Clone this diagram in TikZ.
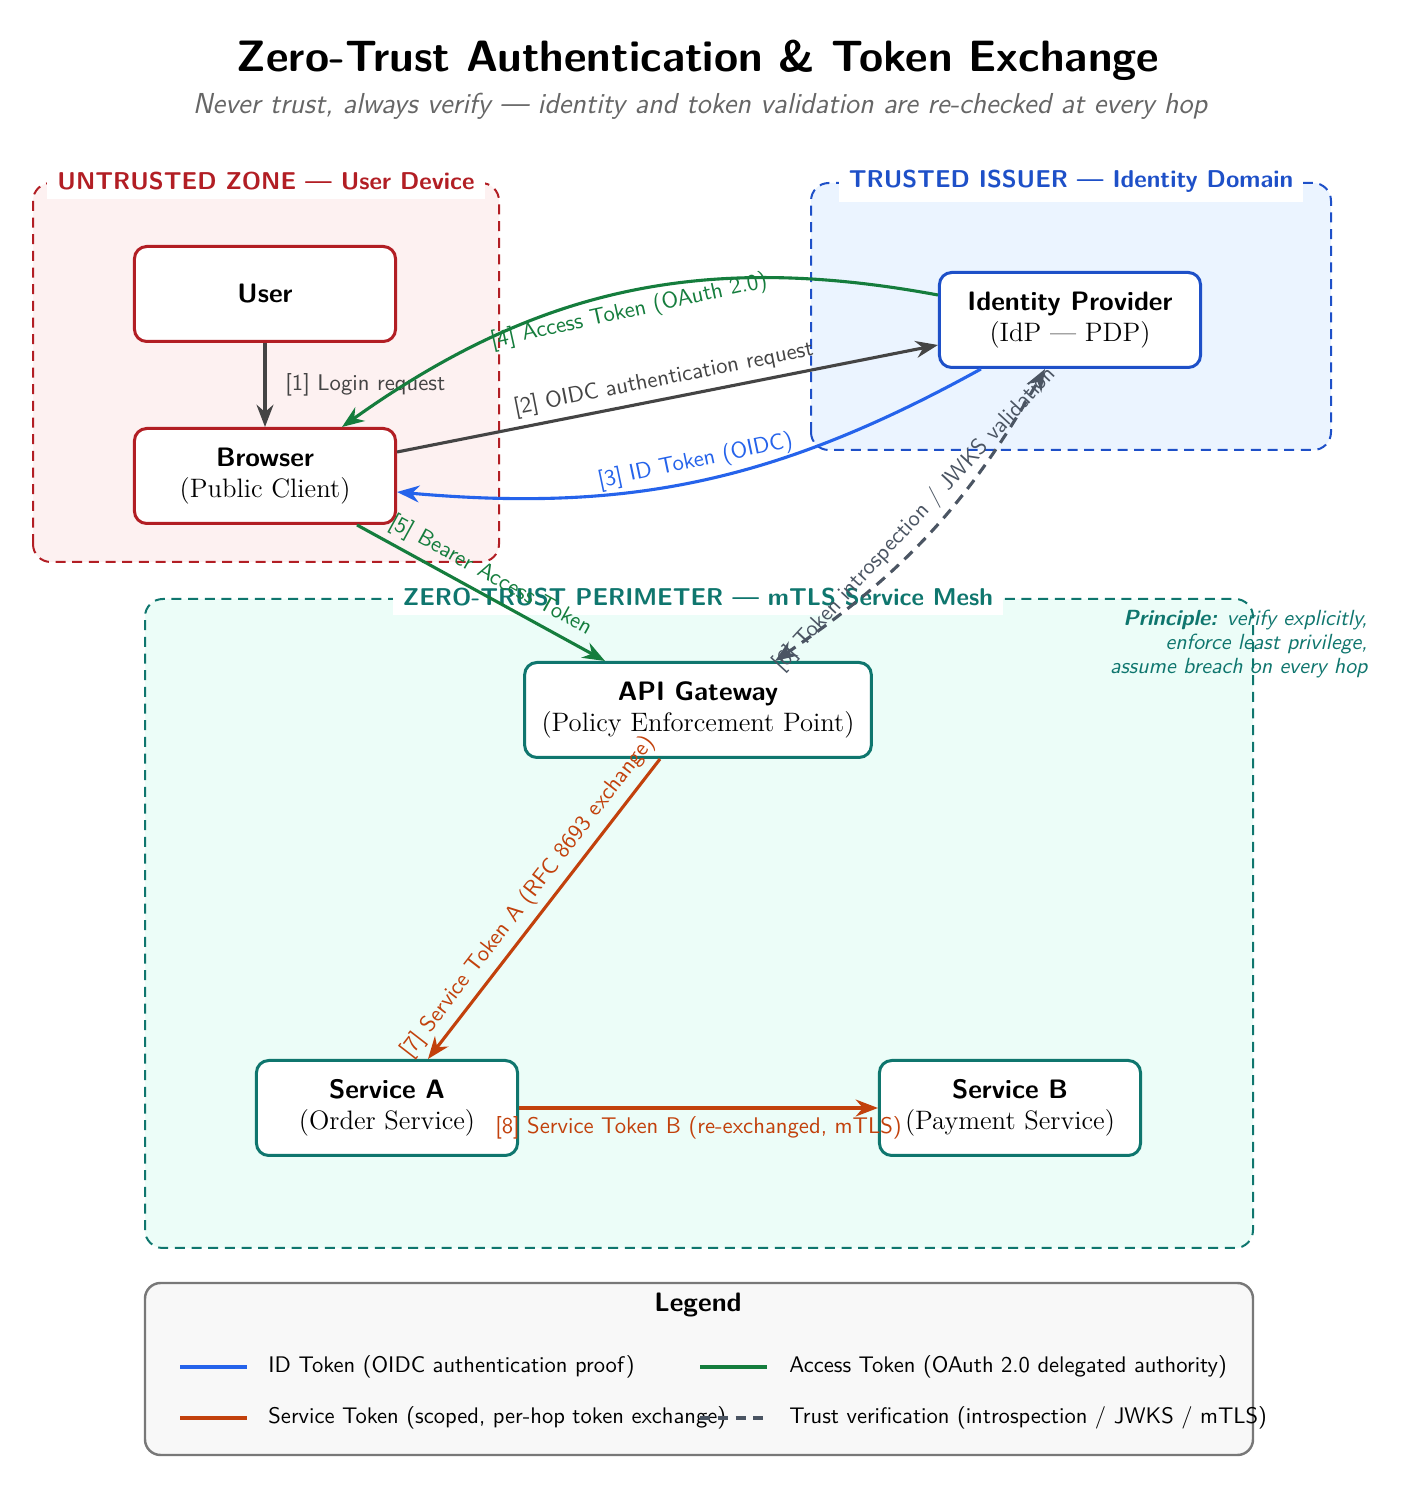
\documentclass[tikz,border=0pt]{standalone}
\usetikzlibrary{arrows.meta,calc}
\definecolor{cRed}{RGB}{178,30,36}
\definecolor{cPink}{RGB}{253,241,241}
\definecolor{cBlue}{RGB}{30,80,200}
\definecolor{cBlueFill}{RGB}{235,244,255}
\definecolor{cIdTok}{RGB}{37,99,235}
\definecolor{cGreen}{RGB}{21,125,61}
\definecolor{cTeal}{RGB}{15,118,110}
\definecolor{cMint}{RGB}{236,253,248}
\definecolor{cOrange}{RGB}{194,65,12}
\definecolor{cGray}{RGB}{68,68,68}
\definecolor{cDash}{RGB}{75,85,99}
\definecolor{cSub}{RGB}{102,102,102}
\definecolor{cLegFill}{RGB}{248,248,248}
\definecolor{cLegDraw}{RGB}{120,120,120}
\begin{document}
\begin{tikzpicture}[x=0.45pt,y=0.45pt,
  box/.style={draw, line width=1.35pt, rounded corners=5.5pt, fill=white,
    minimum width=117.5pt, minimum height=42.75pt, align=center, inner sep=3pt, font=\large},
  redbox/.style={box, draw=cRed},
  bluebox/.style={box, draw=cBlue},
  tealbox/.style={box, draw=cTeal},
  zone/.style={line width=0.9pt, dash pattern=on 4.5pt off 3pt, rounded corners=8pt},
  zlabel/.style={fill=white, inner xsep=4.5pt, inner ysep=4pt, font=\sffamily\bfseries\fontsize{10.95}{13}\selectfont, anchor=base},
  arr/.style={line width=1.4pt, -{Stealth[length=10pt,width=7.6pt]}},
  elabel/.style={font=\sffamily\fontsize{10.2}{12}\selectfont, inner sep=3pt},
  legline/.style={line width=1.8pt},
  legtext/.style={font=\sffamily\fontsize{10.15}{12}\selectfont, anchor=west, inner sep=0pt}
]
\fill[white] (0,0) rectangle (1410,1487);
\useasboundingbox (0,0) rectangle (1410,1487);

% title
\node[anchor=base, font=\sffamily\bfseries\fontsize{19.75}{24}\selectfont] (title) at (698,1415) {Zero-Trust Authentication \& Token Exchange};
\node[anchor=base, font=\sffamily\itshape\fontsize{13}{16}\selectfont, text=cSub] (subtitle) at (700,1373) {Never trust, always verify — identity and token validation are re-checked at every hop};

% zones
\draw[zone, draw=cRed, fill=cPink] (33,925) rectangle (499,1304);
\draw[zone, draw=cBlue, fill=cBlueFill] (811,1037) rectangle (1331,1304);
\draw[zone, draw=cTeal, fill=cMint] (145,239) rectangle (1253,888);
\node[zlabel, text=cRed] (zuntrusted) at (266,1297) {UNTRUSTED ZONE — User Device};
\node[zlabel, text=cBlue] (ztrusted) at (1071,1299) {TRUSTED ISSUER — Identity Domain};
\node[zlabel, text=cTeal] (zperim) at (698,881) {ZERO-TRUST PERIMETER — mTLS Service Mesh};

% principle
\node[anchor=east, align=right, font=\sffamily\itshape\fontsize{9.86}{10.8}\selectfont, text=cTeal, inner sep=0pt] (principle) at (1368,843)
  {\textbf{Principle:} verify explicitly,\\ enforce least privilege,\\ assume breach on every hop};

% nodes
\node[redbox] (user) at (265,1193) {\textsf{\textbf{User}}};
\node[redbox] (browser) at (265,1011) {\textsf{\textbf{Browser}}\\(Public Client)};
\node[bluebox] (idp) at (1070,1167) {\textsf{\textbf{Identity Provider}}\\(IdP — PDP)};
\node[tealbox, minimum width=156pt] (api) at (698,777) {\textsf{\textbf{API Gateway}}\\(Policy Enforcement Point)};
\node[tealbox] (svca) at (387,379) {\textsf{\textbf{Service A}}\\(Order Service)};
\node[tealbox] (svcb) at (1010,379) {\textsf{\textbf{Service B}}\\(Payment Service)};

% edges
\draw[arr, cGray] (user) -- (browser)
  node[elabel, midway, right=5.5pt, text=cGray] {[1] Login request};
\draw[arr, cGray] ($(browser.east)+(0,24)$) -- ($(idp.west)+(0,-25)$)
  node[elabel, midway, above, sloped, text=cGray] {[2] OIDC authentication request};
\draw[arr, cIdTok] ($(idp.south west)+(43,0)$) to[bend left=17]
  node[elabel, midway, above, sloped, text=cIdTok] {[3] ID Token (OIDC)} ($(browser.east)+(0,-16)$);
\draw[arr, cGreen] ($(idp.west)+(0,25)$) to[bend right=23]
  node[elabel, pos=0.5, below, sloped, text=cGreen] {[4] Access Token (OAuth 2.0)} ($(browser.north)+(77,0)$);
\draw[arr, cGreen] ($(browser.south)+(92,0)$) -- ($(api.north)+(-93,0)$)
  node[elabel, pos=0.5, above, sloped, text=cGreen] {[5] Bearer Access Token};
\draw[arr, {Stealth[length=10pt,width=7.6pt]}-{Stealth[length=10pt,width=7.6pt]}, cDash, dash pattern=on 5pt off 3.5pt]
  ($(api.north)+(77,0)$) to[bend right=13]
  node[elabel, midway, above, sloped, text=cDash] {[6] Token introspection / JWKS validation} ($(idp.south)+(-25,0)$);
\draw[arr, cOrange] ($(api.south)+(-38,0)$) -- ($(svca.north)+(41,0)$)
  node[elabel, midway, above, sloped, text=cOrange] {[7] Service Token A (RFC 8693 exchange)};
\draw[arr, cOrange] (svca) -- (svcb)
  node[elabel, midway, below, text=cOrange] {[8] Service Token B (re-exchanged, mTLS)};

% legend
\draw[line width=1.1pt, draw=cLegDraw, fill=cLegFill, rounded corners=7pt] (145,32) rectangle (1253,204);
\node[anchor=base, font=\sffamily\bfseries\large] (legtitle) at (698,175) {Legend};
\coordinate (l1a) at (180,120); \coordinate (l1b) at (247,120);
\coordinate (l2a) at (700,120); \coordinate (l2b) at (767,120);
\coordinate (l3a) at (180,69);  \coordinate (l3b) at (247,69);
\coordinate (l4a) at (700,69);  \coordinate (l4b) at (767,69);
\draw[legline, cIdTok] (l1a) -- (l1b);
\node[legtext] (lt1) at (268,120) {ID Token (OIDC authentication proof)};
\draw[legline, cGreen] (l2a) -- (l2b);
\node[legtext] (lt2) at (789,120) {Access Token (OAuth 2.0 delegated authority)};
\draw[legline, cOrange] (l3a) -- (l3b);
\node[legtext] (lt3) at (268,69) {Service Token (scoped, per-hop token exchange)};
\draw[legline, cDash, dash pattern=on 4.5pt off 3.5pt] (l4a) -- (l4b);
\node[legtext] (lt4) at (789,69) {Trust verification (introspection / JWKS / mTLS)};
\end{tikzpicture}
\end{document}
